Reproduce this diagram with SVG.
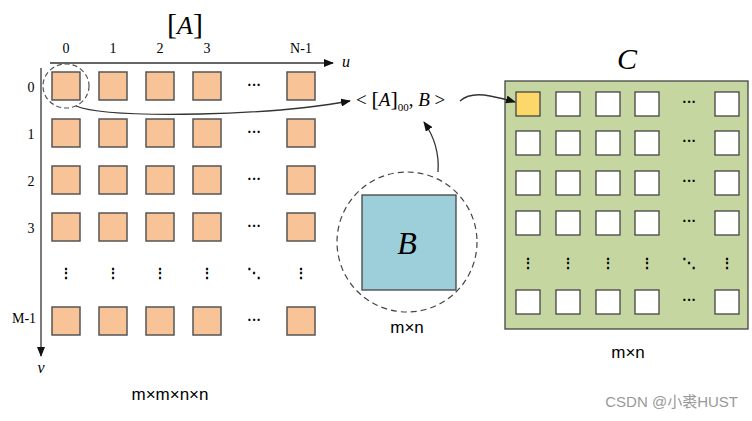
<svg xmlns="http://www.w3.org/2000/svg" width="752" height="421" viewBox="0 0 752 421">
<style>
.a{fill:#F8C396;stroke:#555;stroke-width:1.5}
.c{fill:#fff;stroke:#444;stroke-width:1.3}
.t{font-family:"Liberation Serif",serif;font-size:14px;fill:#000;text-anchor:middle}
.i{font-family:"Liberation Serif",serif;font-style:italic;fill:#000;text-anchor:middle}
.d{font-family:"Liberation Serif",serif;font-size:14px;fill:#000;text-anchor:middle;font-weight:bold}
.s{font-family:"Liberation Sans",sans-serif;font-size:17px;fill:#000;text-anchor:middle}
.ln{fill:none;stroke:#333;stroke-width:1.3}
</style>
<defs><marker id="ar" markerWidth="10" markerHeight="8" refX="9" refY="4" orient="auto" markerUnits="userSpaceOnUse"><path d="M0,0L10,4L0,8z" fill="#111"/></marker></defs>
<rect width="752" height="421" fill="#fff"/>
<g id="gridA">
<text x="185" y="34" font-family="Liberation Serif,serif" font-size="30" text-anchor="middle">[<tspan font-style="italic" font-size="26">A</tspan>]</text>
<g class="t"><text x="66" y="53">0</text><text x="113" y="53">1</text><text x="160" y="53">2</text><text x="207" y="53">3</text><text x="301" y="53">N-1</text>
<text x="31" y="92">0</text><text x="31" y="139">1</text><text x="31" y="186">2</text><text x="31" y="233">3</text><text x="24" y="323">M-1</text></g>
<g class="a">
<rect x="52" y="72" width="28" height="28"/><rect x="99" y="72" width="28" height="28"/><rect x="146" y="72" width="28" height="28"/><rect x="193" y="72" width="28" height="28"/><rect x="287" y="72" width="28" height="28"/>
<rect x="52" y="119" width="28" height="28"/><rect x="99" y="119" width="28" height="28"/><rect x="146" y="119" width="28" height="28"/><rect x="193" y="119" width="28" height="28"/><rect x="287" y="119" width="28" height="28"/>
<rect x="52" y="166" width="28" height="28"/><rect x="99" y="166" width="28" height="28"/><rect x="146" y="166" width="28" height="28"/><rect x="193" y="166" width="28" height="28"/><rect x="287" y="166" width="28" height="28"/>
<rect x="52" y="213" width="28" height="28"/><rect x="99" y="213" width="28" height="28"/><rect x="146" y="213" width="28" height="28"/><rect x="193" y="213" width="28" height="28"/><rect x="287" y="213" width="28" height="28"/>
<rect x="52" y="307" width="28" height="28"/><rect x="99" y="307" width="28" height="28"/><rect x="146" y="307" width="28" height="28"/><rect x="193" y="307" width="28" height="28"/><rect x="287" y="307" width="28" height="28"/>
</g>
<g class="d"><text x="254" y="90">···</text><text x="254" y="137">···</text><text x="254" y="184">···</text><text x="254" y="231">···</text><text x="254" y="325">···</text>
<text x="66" y="278">⋮</text><text x="113" y="278">⋮</text><text x="160" y="278">⋮</text><text x="207" y="278">⋮</text><text x="254" y="278">⋱</text><text x="301" y="278">⋮</text></g>
<text x="170" y="400" class="s">m×m×n×n</text>
<text x="346" y="67" class="i" font-size="16">u</text><text x="41" y="373" class="i" font-size="16">v</text>
</g>
<g id="B">
<circle cx="407" cy="242" r="70" fill="none" stroke="#444" stroke-dasharray="6,4" stroke-width="1.2"/>
<rect x="362" y="195" width="94" height="95" fill="#9CCFDA" stroke="#444" stroke-width="1.3"/>
<text x="407" y="254" class="i" font-size="32">B</text>
<text x="407" y="333" class="s">m×n</text>
</g>
<g id="expr"><text x="356" y="106" font-family="Liberation Serif,serif" font-size="19"><tspan>&lt; </tspan><tspan font-size="22">[</tspan><tspan font-style="italic">A</tspan><tspan font-size="22">]</tspan><tspan font-size="11" dy="5">00</tspan><tspan dy="-5">, </tspan><tspan font-style="italic">B</tspan><tspan> &gt;</tspan></text></g>
<g id="gridC">
<text x="627" y="69" class="i" font-size="30">C</text>
<rect x="505" y="81" width="243" height="248" fill="#C5D6A0" stroke="#444" stroke-width="1.3"/>
<rect x="516" y="92" width="24" height="24" fill="#FCD76A" stroke="#444" stroke-width="1.3"/>
<g class="c">
<rect x="556" y="92" width="24" height="24"/><rect x="596" y="92" width="24" height="24"/><rect x="635" y="92" width="24" height="24"/><rect x="715" y="92" width="24" height="24"/>
<rect x="516" y="131" width="24" height="24"/><rect x="556" y="131" width="24" height="24"/><rect x="596" y="131" width="24" height="24"/><rect x="635" y="131" width="24" height="24"/><rect x="715" y="131" width="24" height="24"/>
<rect x="516" y="171" width="24" height="24"/><rect x="556" y="171" width="24" height="24"/><rect x="596" y="171" width="24" height="24"/><rect x="635" y="171" width="24" height="24"/><rect x="715" y="171" width="24" height="24"/>
<rect x="516" y="211" width="24" height="24"/><rect x="556" y="211" width="24" height="24"/><rect x="596" y="211" width="24" height="24"/><rect x="635" y="211" width="24" height="24"/><rect x="715" y="211" width="24" height="24"/>
<rect x="516" y="290" width="24" height="24"/><rect x="556" y="290" width="24" height="24"/><rect x="596" y="290" width="24" height="24"/><rect x="635" y="290" width="24" height="24"/><rect x="715" y="290" width="24" height="24"/>
</g>
<g class="d"><text x="689" y="107">···</text><text x="689" y="146">···</text><text x="689" y="186">···</text><text x="689" y="226">···</text><text x="689" y="305">···</text>
<text x="528" y="268">⋮</text><text x="568" y="268">⋮</text><text x="608" y="268">⋮</text><text x="647" y="268">⋮</text><text x="689" y="268">⋱</text><text x="727" y="268">⋮</text></g>
<text x="628" y="358" class="s">m×n</text>
</g>
<g id="connectors">
<line x1="50" y1="63" x2="333" y2="63" class="ln" marker-end="url(#ar)"/>
<line x1="41" y1="68" x2="41" y2="356" class="ln" marker-end="url(#ar)"/>
<ellipse cx="66" cy="86" rx="23" ry="22" fill="none" stroke="#555" stroke-dasharray="5,3" stroke-width="1.2"/>
<path d="M76,106 Q100,116 200,114 Q290,112 350,101" class="ln" marker-end="url(#ar)"/>
<path d="M460,101 Q470,92 490,96 Q505,99 515,102" class="ln" marker-end="url(#ar)"/>
<path d="M438,172 Q440,145 424,122" class="ln" marker-end="url(#ar)"/>
</g>
<text x="738" y="407" font-family="Liberation Sans,'Noto Sans CJK SC',sans-serif" font-size="15" fill="#999" text-anchor="end">CSDN @小裘HUST</text>
</svg>
